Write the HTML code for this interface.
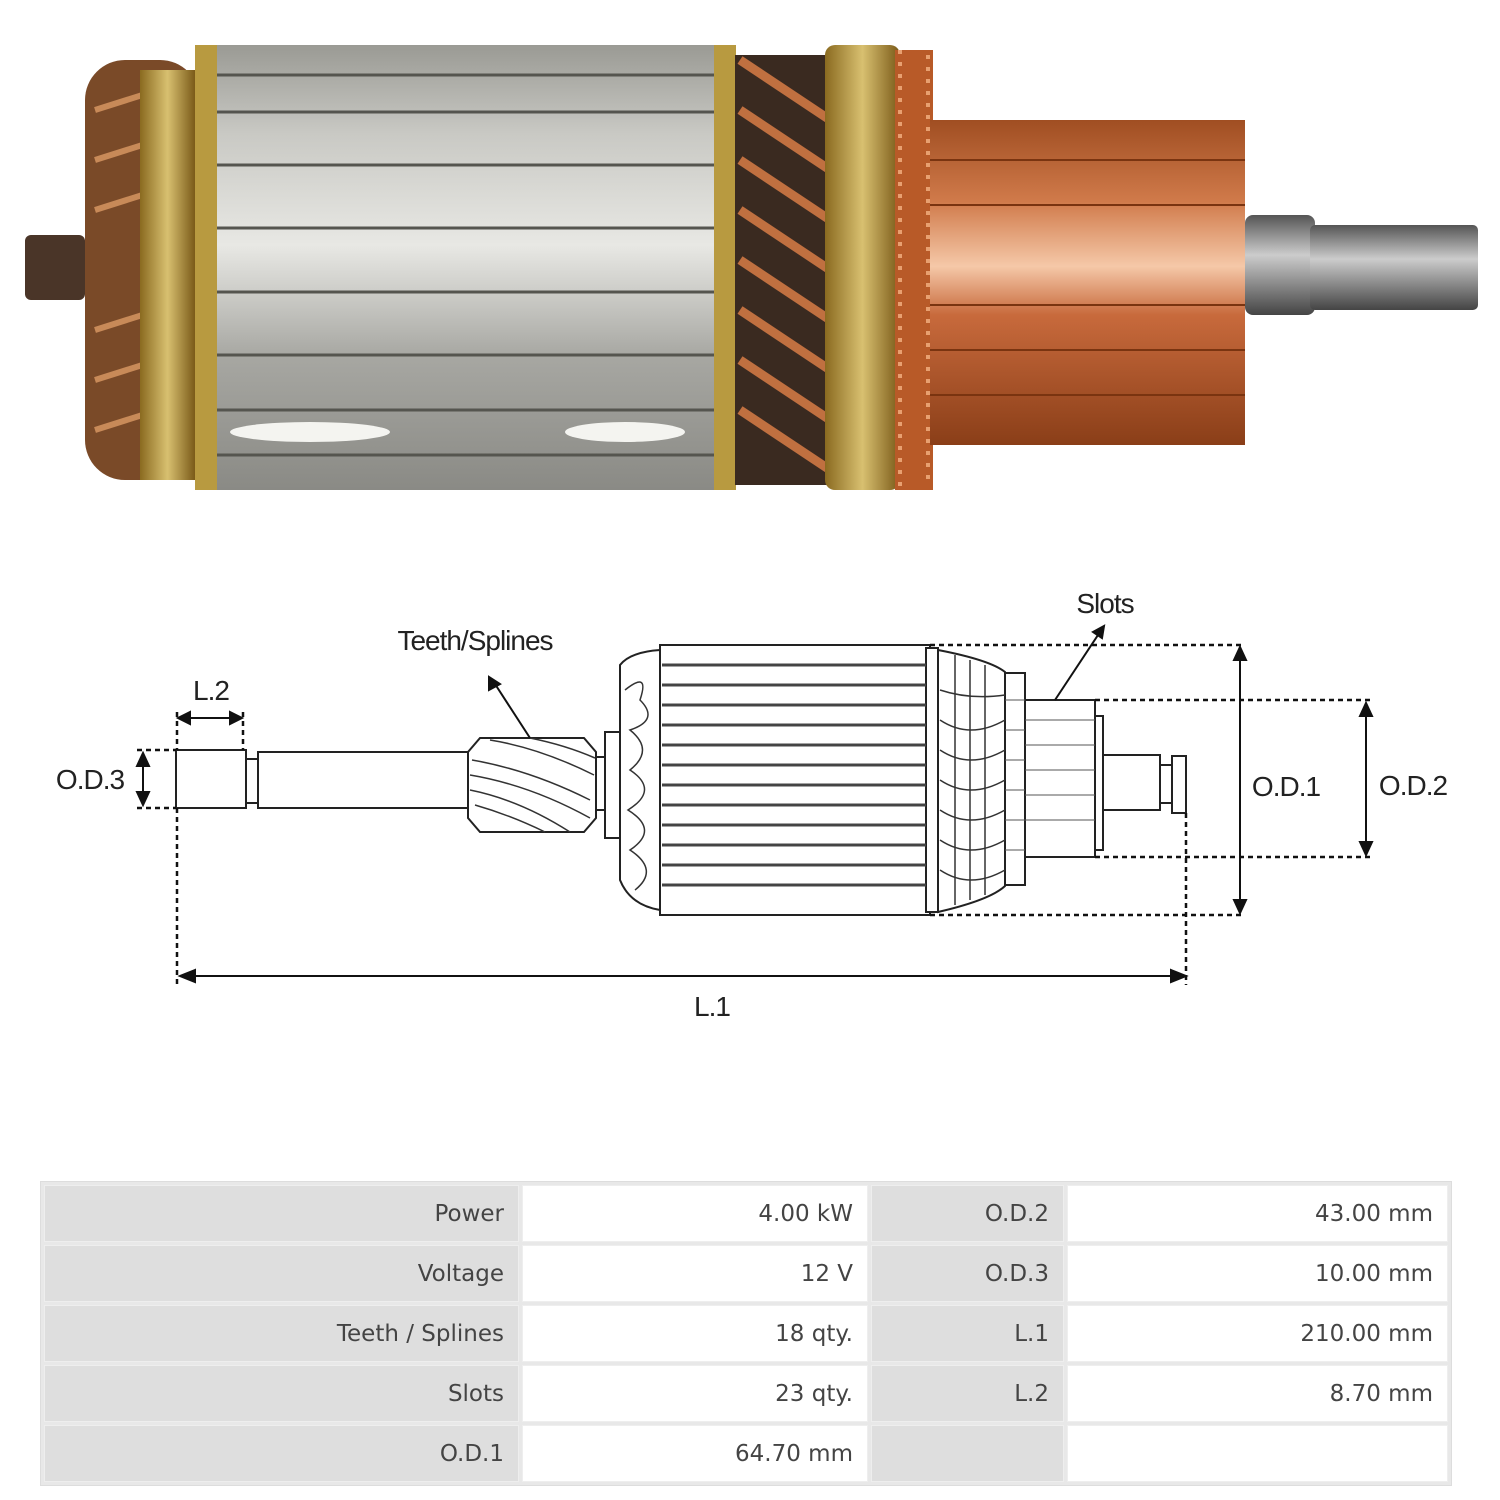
<!DOCTYPE html>
<html><head><meta charset="utf-8"><style>
html,body{margin:0;padding:0;background:#fff;}
body{width:1500px;height:1500px;position:relative;overflow:hidden;}
svg{position:absolute;left:0;top:0;}
table{position:absolute;left:40px;top:1181px;width:1412px;border-collapse:separate;border-spacing:3px;background:#e8e8e8;border:1px solid #ddd;font-family:"DejaVu Sans",sans-serif;font-size:23px;color:#444;}
td{height:55px;text-align:right;padding:0 14px;border:1px solid #eee;}
td.g{background:#dedede;}
td.w{background:#fff;}
</style></head><body>
<svg width="1500" height="1170" viewBox="0 0 1500 1170">
<defs>
<linearGradient id="steel" x1="0" y1="0" x2="0" y2="1">
<stop offset="0" stop-color="#9a9a94"/><stop offset="0.2" stop-color="#c9c9c4"/><stop offset="0.45" stop-color="#e8e8e4"/><stop offset="0.7" stop-color="#a7a7a2"/><stop offset="1" stop-color="#8a8a85"/></linearGradient>
<linearGradient id="cu" x1="0" y1="0" x2="0" y2="1">
<stop offset="0" stop-color="#a04e22"/><stop offset="0.25" stop-color="#d07a4a"/><stop offset="0.45" stop-color="#f5c8a8"/><stop offset="0.6" stop-color="#c86a3c"/><stop offset="1" stop-color="#8a3e18"/></linearGradient>
<linearGradient id="brass" x1="0" y1="0" x2="1" y2="0">
<stop offset="0" stop-color="#8a6a20"/><stop offset="0.5" stop-color="#d8c070"/><stop offset="1" stop-color="#7a5a18"/></linearGradient>
<linearGradient id="sh" x1="0" y1="0" x2="0" y2="1">
<stop offset="0" stop-color="#555"/><stop offset="0.4" stop-color="#ccc"/><stop offset="1" stop-color="#444"/></linearGradient>
</defs>
<rect x="25" y="235" width="60" height="65" rx="6" fill="#4a3528"/>
<rect x="85" y="60" width="115" height="420" rx="40" fill="#7a4a28"/>
<g stroke="#c88a58" stroke-width="6" fill="none">
<path d="M95 110 L190 80"/><path d="M95 160 L190 130"/><path d="M95 210 L190 180"/><path d="M95 330 L190 300"/><path d="M95 380 L190 350"/><path d="M95 430 L190 400"/>
</g>
<rect x="140" y="70" width="55" height="410" fill="url(#brass)"/>
<rect x="195" y="45" width="540" height="445" fill="url(#steel)"/>
<g stroke="#55554f" stroke-width="3">
<line x1="215" y1="75" x2="715" y2="75"/><line x1="215" y1="112" x2="715" y2="112"/><line x1="215" y1="165" x2="715" y2="165"/><line x1="215" y1="228" x2="715" y2="228"/><line x1="215" y1="292" x2="715" y2="292"/><line x1="215" y1="355" x2="715" y2="355"/><line x1="215" y1="410" x2="715" y2="410"/><line x1="215" y1="455" x2="715" y2="455"/>
</g>
<ellipse cx="310" cy="432" rx="80" ry="10" fill="#f4f4f0"/><ellipse cx="625" cy="432" rx="60" ry="10" fill="#f4f4f0"/>
<rect x="195" y="45" width="22" height="445" fill="#b89a40"/>
<rect x="714" y="45" width="22" height="445" fill="#b89a40"/>
<rect x="735" y="55" width="100" height="430" fill="#3a2a20"/>
<g stroke="#c07040" stroke-width="9">
<line x1="740" y1="60" x2="830" y2="120"/><line x1="740" y1="110" x2="830" y2="170"/><line x1="740" y1="160" x2="830" y2="220"/><line x1="740" y1="210" x2="830" y2="270"/><line x1="740" y1="260" x2="830" y2="320"/><line x1="740" y1="310" x2="830" y2="370"/><line x1="740" y1="360" x2="830" y2="420"/><line x1="740" y1="410" x2="830" y2="470"/>
</g>
<rect x="825" y="45" width="75" height="445" rx="10" fill="url(#brass)"/>
<rect x="895" y="50" width="38" height="440" fill="#b85a28"/>
<g stroke="#e8a070" stroke-width="4" stroke-dasharray="4 8"><line x1="900" y1="50" x2="900" y2="490"/><line x1="928" y1="55" x2="928" y2="485"/></g>
<rect x="930" y="120" width="315" height="325" fill="url(#cu)"/>
<g stroke="#7a3410" stroke-width="2">
<line x1="930" y1="160" x2="1245" y2="160"/><line x1="930" y1="205" x2="1245" y2="205"/><line x1="930" y1="305" x2="1245" y2="305"/><line x1="930" y1="350" x2="1245" y2="350"/><line x1="930" y1="395" x2="1245" y2="395"/>
</g>
<rect x="1245" y="215" width="70" height="100" rx="8" fill="url(#sh)"/>
<rect x="1310" y="225" width="168" height="85" rx="5" fill="url(#sh)"/>
<g stroke="#222" stroke-width="2" fill="#fff">
<rect x="176" y="750" width="70" height="58"/>
<rect x="246" y="759" width="12" height="44"/>
<rect x="258" y="752" width="210" height="56"/>
<path d="M480 738 L584 738 L596 752 L596 818 L584 832 L480 832 L468 818 L468 752 Z"/>
<rect x="596" y="757" width="9" height="53"/>
<rect x="605" y="732" width="16" height="106"/>
<path d="M620 665 Q630 652 660 650 L660 910 Q630 905 620 880 Z"/>
<rect x="660" y="645" width="270" height="270"/>
<rect x="926" y="648" width="12" height="264"/>
<path d="M938 650 Q990 660 1005 672 L1005 886 Q990 900 938 912 Z"/>
<rect x="1005" y="673" width="20" height="212"/>
<rect x="1025" y="700" width="70" height="157"/>
<rect x="1095" y="716" width="8" height="134"/>
<rect x="1103" y="755" width="57" height="55"/>
<rect x="1160" y="765" width="12" height="38"/>
<rect x="1172" y="756" width="14" height="57"/>
</g>
<g stroke="#333" stroke-width="1.5" fill="none">
<path d="M472 760 Q530 770 590 800"/><path d="M470 775 Q530 785 590 818"/><path d="M470 790 Q520 800 570 832"/><path d="M475 805 Q510 815 545 832"/><path d="M490 740 Q540 748 594 775"/><path d="M530 738 Q565 745 595 758"/>
<path d="M625 690 Q650 670 640 700 Q660 720 630 730 Q655 750 630 770 Q660 790 628 810 Q660 830 630 850 Q660 870 635 890"/>
<path d="M940 690 Q970 700 1005 695 M940 720 Q970 740 1005 720 M940 750 Q970 770 1005 750 M940 780 Q970 800 1005 780 M940 810 Q970 830 1005 810 M940 840 Q970 860 1005 840 M940 870 Q970 890 1005 870"/>
<path d="M955 655 L955 905 M970 660 L970 900 M985 665 L985 895"/>
</g>
<g stroke="#444" stroke-width="3">
<line x1="662" y1="665" x2="926" y2="665"/><line x1="662" y1="685" x2="926" y2="685"/><line x1="662" y1="705" x2="926" y2="705"/><line x1="662" y1="725" x2="926" y2="725"/><line x1="662" y1="745" x2="926" y2="745"/><line x1="662" y1="765" x2="926" y2="765"/><line x1="662" y1="785" x2="926" y2="785"/><line x1="662" y1="805" x2="926" y2="805"/><line x1="662" y1="825" x2="926" y2="825"/><line x1="662" y1="845" x2="926" y2="845"/><line x1="662" y1="865" x2="926" y2="865"/><line x1="662" y1="885" x2="926" y2="885"/>
</g>
<g stroke="#555" stroke-width="1">
<line x1="1025" y1="720" x2="1095" y2="720"/><line x1="1025" y1="745" x2="1095" y2="745"/><line x1="1025" y1="770" x2="1095" y2="770"/><line x1="1025" y1="795" x2="1095" y2="795"/><line x1="1025" y1="820" x2="1095" y2="820"/>
<line x1="1005" y1="700" x2="1025" y2="700"/><line x1="1005" y1="730" x2="1025" y2="730"/><line x1="1005" y1="760" x2="1025" y2="760"/><line x1="1005" y1="790" x2="1025" y2="790"/><line x1="1005" y1="820" x2="1025" y2="820"/><line x1="1005" y1="850" x2="1025" y2="850"/>
</g>
<g stroke="#111" stroke-width="2.5" stroke-dasharray="5 4" fill="none">
<line x1="930" y1="645" x2="1243" y2="645"/><line x1="930" y1="915" x2="1243" y2="915"/>
<line x1="1095" y1="700" x2="1370" y2="700"/><line x1="1095" y1="857" x2="1370" y2="857"/>
<line x1="1186" y1="813" x2="1186" y2="985"/><line x1="177" y1="808" x2="177" y2="985"/>
<line x1="177" y1="712" x2="177" y2="750"/><line x1="243" y1="712" x2="243" y2="750"/>
<line x1="137" y1="750" x2="176" y2="750"/><line x1="137" y1="808" x2="176" y2="808"/>
</g>
<g stroke="#111" stroke-width="2" fill="#111">
<line x1="1240" y1="652" x2="1240" y2="908"/><path d="M1234 660 L1240 647 L1246 660Z M1234 900 L1240 913 L1246 900Z"/>
<line x1="1366" y1="708" x2="1366" y2="850"/><path d="M1360 716 L1366 703 L1372 716Z M1360 842 L1366 855 L1372 842Z"/>
<line x1="143" y1="758" x2="143" y2="800"/><path d="M137 766 L143 753 L149 766Z M137 792 L143 805 L149 792Z"/>
<line x1="182" y1="718" x2="238" y2="718"/><path d="M190 712 L178 718 L190 724Z M230 712 L242 718 L230 724Z"/>
<line x1="185" y1="976" x2="1181" y2="976"/><path d="M195 970 L180 976 L195 982Z M1171 970 L1186 976 L1171 982Z"/>
<line x1="1055" y1="700" x2="1100" y2="632"/><path d="M1093 632 L1104 626 L1102 638Z"/>
<line x1="530" y1="738" x2="495" y2="684"/><path d="M489 690 L489 677 L500 684Z"/>
</g>
<g font-family="Liberation Sans, sans-serif" font-size="28" fill="#222" letter-spacing="-1" text-anchor="middle">
<text x="1105" y="613">Slots</text>
<text x="475" y="650">Teeth/Splines</text>
<text x="211" y="700">L.2</text>
<text x="90" y="789">O.D.3</text>
<text x="1286" y="796">O.D.1</text>
<text x="1413" y="795">O.D.2</text>
<text x="712" y="1016">L.1</text>
</g>
</svg>
<table>
<tr><td class="g" style="width:445px">Power</td><td class="w" style="width:316px">4.00 kW</td><td class="g" style="width:163px">O.D.2</td><td class="w">43.00 mm</td></tr>
<tr><td class="g">Voltage</td><td class="w">12 V</td><td class="g">O.D.3</td><td class="w">10.00 mm</td></tr>
<tr><td class="g">Teeth / Splines</td><td class="w">18 qty.</td><td class="g">L.1</td><td class="w">210.00 mm</td></tr>
<tr><td class="g">Slots</td><td class="w">23 qty.</td><td class="g">L.2</td><td class="w">8.70 mm</td></tr>
<tr><td class="g">O.D.1</td><td class="w">64.70 mm</td><td class="g"></td><td class="w"></td></tr>
</table>
</body></html>
